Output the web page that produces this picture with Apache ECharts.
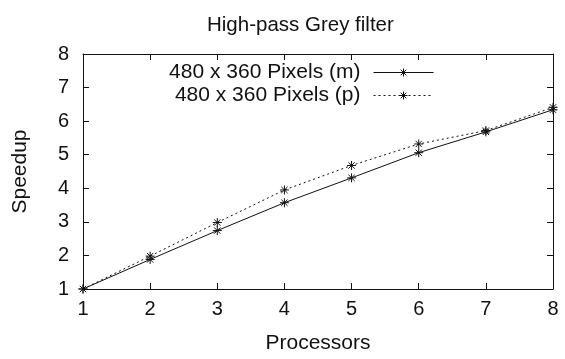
<!DOCTYPE html>
<html>
<head>
<meta charset="utf-8">
<script src="https://cdn.jsdelivr.net/npm/echarts@6/dist/echarts.min.js"></script>
<style>
  html, body { margin: 0; padding: 0; background: #fff; }
  #chart { width: 565px; height: 359px; }
</style>
</head>
<body>
<div id="chart"></div>
<script>
const processors = [1, 2, 3, 4, 5, 6, 7, 8]
const speedupM = [1, 1.88, 2.74, 3.57, 4.31, 5.06, 5.68, 6.34]
const speedupP = [1, 1.98, 2.98, 3.95, 4.68, 5.32, 5.72, 6.41]
const seriesNames = ['480 x 360 Pixels (m)', '480 x 360 Pixels (p)']

// gnuplot style asterisk (+ and x overlaid)
const star = 'path://M0 5L10 5M5 0L5 10M1.5 1.5L8.5 8.5M8.5 1.5L1.5 8.5'
const font = 'Liberation Sans'
const ink = '#111'

const chart = echarts.init(document.getElementById('chart'), null, { renderer: 'canvas' })

const hiddenAxis = {
  min: 1,
  max: 8,
  interval: 1,
  type: 'value',
  axisLine: { show: true, lineStyle: { color: ink, width: 1 } },
  axisTick: { show: true, inside: true, length: 6, lineStyle: { color: ink } },
  axisLabel: { show: false },
  splitLine: { show: false },
}

chart.setOption({
  animation: false,
  textStyle: { fontFamily: font },
  title: {
    text: 'High-pass Grey filter',
    left: 202,
    top: 10,
    textStyle: { fontFamily: font, fontSize: 20.5, fontWeight: 'normal', color: ink },
  },
  legend: {
    orient: 'vertical',
    align: 'right',
    right: 126,
    top: 57,
    itemWidth: 60,
    itemHeight: 10,
    itemGap: 2,
    data: seriesNames,
    itemStyle: { color: 'none', borderColor: ink, borderWidth: 1 },
    lineStyle: { width: 1 },
    textStyle: { fontFamily: font, fontSize: 21, color: ink, padding: [0, 8, 0, 0] },
  },
  grid: { left: 83, right: 12, top: 54, bottom: 70 },
  xAxis: [
    {
      type: 'value',
      min: 1,
      max: 8,
      interval: 1,
      name: 'Processors',
      nameLocation: 'middle',
      nameGap: 44,
      nameTextStyle: { fontFamily: font, fontSize: 21, color: ink },
      axisLine: { show: true, lineStyle: { color: ink, width: 1 } },
      axisTick: { show: true, inside: true, length: 6, lineStyle: { color: ink } },
      axisLabel: { margin: 10, fontFamily: font, fontSize: 20, color: ink },
      splitLine: { show: false },
    },
    Object.assign({ position: 'top' }, hiddenAxis),
  ],
  yAxis: [
    {
      type: 'value',
      min: 1,
      max: 8,
      interval: 1,
      name: 'Speedup',
      nameLocation: 'middle',
      nameGap: 52,
      nameTextStyle: { fontFamily: font, fontSize: 21, color: ink },
      axisLine: { show: true, lineStyle: { color: ink, width: 1 } },
      axisTick: { show: true, inside: true, length: 6, lineStyle: { color: ink } },
      axisLabel: { margin: 14, fontFamily: font, fontSize: 20, color: ink },
      splitLine: { show: false },
    },
    Object.assign({ position: 'right' }, hiddenAxis),
  ],
  series: [
    {
      name: seriesNames[0],
      type: 'line',
      data: processors.map((p, i) => [p, speedupM[i]]),
      symbol: star,
      symbolSize: 9,
      color: ink,
      itemStyle: { color: 'none', borderColor: ink, borderWidth: 1 },
      lineStyle: { color: ink, width: 1 },
    },
    {
      name: seriesNames[1],
      type: 'line',
      data: processors.map((p, i) => [p, speedupP[i]]),
      symbol: star,
      symbolSize: 9,
      color: ink,
      itemStyle: { color: 'none', borderColor: ink, borderWidth: 1 },
      lineStyle: { color: ink, width: 1, type: [2, 3] },
    },
  ],
})
</script>
</body>
</html>
